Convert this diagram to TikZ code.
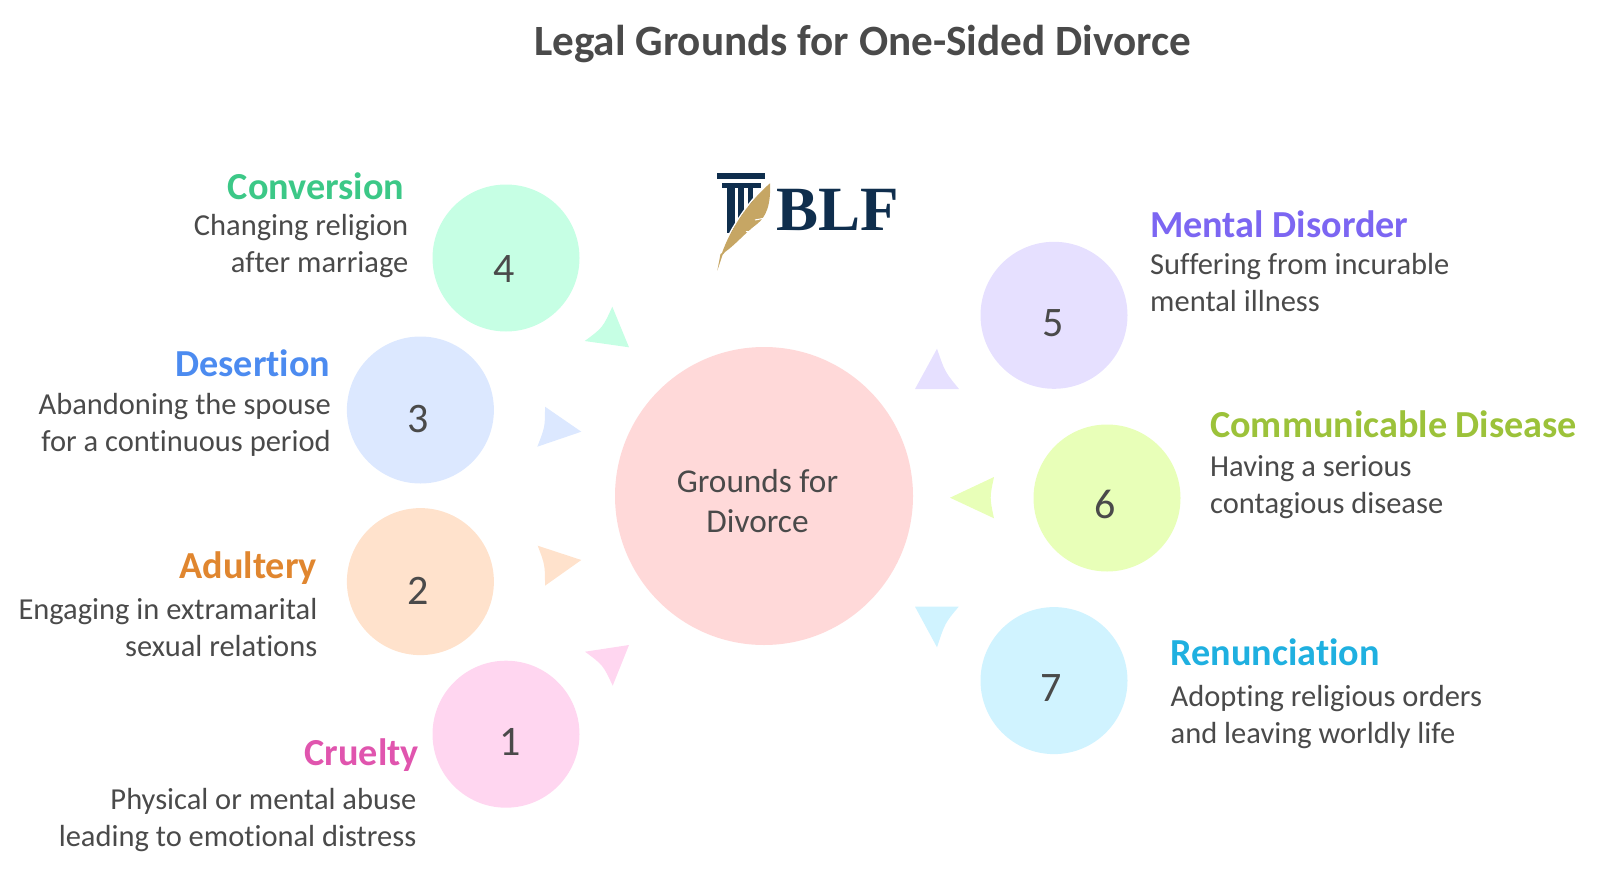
\documentclass[tikz,border=0pt]{standalone}
\usepackage{fontspec}
\setmainfont{Carlito}[Ligatures=NoCommon]
\newfontfamily\logofont{Liberation Serif}
\definecolor{inkgray}{HTML}{4A4A4A}
\definecolor{logonavy}{HTML}{0F2E4D}
\definecolor{logogold}{HTML}{C6A664}
\definecolor{softred}{HTML}{FFD9D9}
\definecolor{softgreen}{HTML}{C6FFE4}
\definecolor{softblue}{HTML}{DCE8FF}
\definecolor{softorange}{HTML}{FFE2CC}
\definecolor{softpink}{HTML}{FFD6F0}
\definecolor{softpurple}{HTML}{E6E0FF}
\definecolor{softlime}{HTML}{E8FFB8}
\definecolor{softcyan}{HTML}{D0F3FF}
\definecolor{headgreen}{RGB}{60,200,135}
\definecolor{headblue}{RGB}{76,139,240}
\definecolor{headorange}{RGB}{224,134,47}
\definecolor{headpink}{RGB}{224,85,174}
\definecolor{headpurple}{RGB}{124,102,242}
\definecolor{headlime}{RGB}{156,194,58}
\definecolor{headcyan}{RGB}{31,176,224}
\tikzset{
	bubble/.style={circle,inner sep=0pt,minimum size=147pt},
	digit/.style={inner sep=0pt,text=inkgray,font=\fontsize{42}{42}\selectfont},
	heading/.style={inner sep=0pt,font=\fontsize{38.2}{38.2}\selectfont\bfseries},
	note/.style={inner sep=0pt,text=inkgray,font=\fontsize{30.5}{36.7}\selectfont}
}
\begin{document}
\begin{tikzpicture}[x=1pt,y=-1pt,line join=round]
	\useasboundingbox (0,0) rectangle (1600,872);
	\draw(862.5,44)node[inner sep=0pt,text=inkgray,font=\fontsize{43.2}{43.2}\selectfont\bfseries](title){Legal Grounds for One-Sided Divorce};
	% logo
	\fill[logonavy](717.3,173.3) rectangle (765.3,179.3);
	\fill[logonavy](722.3,182.7) rectangle (760.7,187.7);
	\fill[logonavy](727.3,187.7) rectangle (735,233);
	\fill[logonavy](738,187.7) rectangle (744,220);
	\fill[logonavy](748,187.7) rectangle (753,209);
	\draw[white,line width=1.6pt](721,253) .. controls (728,233) and (745,205) .. (769,182);
	\fill[logogold](717.3,270.7)--(720.5,254)--(722,253) .. controls (729,233) and (745,205) .. (770,183.3) .. controls (771,205) and (766,217) .. (757,224) .. controls (745,233) and (735,245) .. (725,252)--(722.5,255)--cycle;
	\draw[white,line width=1pt](755,220)--(766.7,217.7) (746,231.7)--(758.3,231) (735,245)--(746.7,244.3);
	\draw(838,209.5)node[inner sep=0pt,text=logonavy,font=\logofont\fontsize{63}{63}\selectfont\bfseries](logo){BLF};
	% centre
	\draw(764,496)node[circle,inner sep=0pt,minimum size=298pt,fill=softred](grounds){};
	\draw(757.5,504)node[note,align=center,font=\fontsize{33.3}{40}\selectfont](groundstext){\strut Grounds for\\\strut Divorce};
	% circles
	\draw(506,258)node[bubble,fill=softgreen](c4){};
	\draw(420.4,410)node[bubble,fill=softblue](c3){};
	\draw(420.4,581.6)node[bubble,fill=softorange](c2){};
	\draw(506,734.2)node[bubble,fill=softpink](c1){};
	\draw(1054,315.3)node[bubble,fill=softpurple](c5){};
	\draw(1107,498)node[bubble,fill=softlime](c6){};
	\draw(1054,680.6)node[bubble,fill=softcyan](c7){};
	\draw(510,741.5)node[digit](n1){1};
	\draw(418,591)node[digit](n2){2};
	\draw(418,419.4)node[digit](n3){3};
	\draw(504,269)node[digit](n4){4};
	\draw(1053,323)node[digit](n5){5};
	\draw(1105,504.5)node[digit](n6){6};
	\draw(1051,688)node[digit](n7){7};
	% triangles
	\fill[softgreen](612.3,306.7)--(629,347.3)--(584.7,341) .. controls (602.7,327.7) .. cycle;
	\fill[softblue](545,406.7)--(581.3,431.7)--(537.3,446.7) .. controls (545,427) .. cycle;
	\fill[softorange](537.7,545.7)--(581.3,560)--(545,585.7) .. controls (545,565) .. cycle;
	\fill[softpink](629,645)--(585,651.7) .. controls (603,665) .. (612.7,685.7)--cycle;
	\fill[softpurple](937,348.7) .. controls (945,372) .. (959,389)--(915,389)--cycle;
	\fill[softlime](950,497.7)--(994,477) .. controls (989.6,497.7) .. (994,518.3)--cycle;
	\fill[softcyan](915,606.7)--(958.7,606.7) .. controls (945,623) .. (937,647.3)--cycle;
	% left labels
	\draw(404.5,186)node[heading,anchor=east,text=headgreen](conversion){Conversion};
	\draw(408.5,247)node[note,anchor=east,align=right](conversionnote){\strut Changing religion\\\strut after marriage};
	\draw(330.5,363)node[heading,anchor=east,text=headblue](desertion){Desertion};
	\draw(331,425.5)node[note,anchor=east,align=right](desertionnote){\strut Abandoning the spouse\\\strut for a continuous period};
	\draw(317,568)node[heading,anchor=east,text=headorange](adultery){Adultery};
	\draw(317.5,630.5)node[note,anchor=east,align=right](adulterynote){\strut Engaging in extramarital\\\strut sexual relations};
	\draw(419,755)node[heading,anchor=east,text=headpink](cruelty){Cruelty};
	\draw(416.5,820.5)node[note,anchor=east,align=right](crueltynote){\strut Physical or mental abuse\\\strut leading to emotional distress};
	% right labels
	\draw(1150,224)node[heading,anchor=west,text=headpurple](mental){Mental Disorder};
	\draw(1150,285.5)node[note,anchor=west,align=left](mentalnote){\strut Suffering from incurable\\\strut mental illness};
	\draw(1210,424)node[heading,anchor=west,text=headlime](disease){Communicable Disease};
	\draw(1210,487.5)node[note,anchor=west,align=left](diseasenote){\strut Having a serious\\\strut contagious disease};
	\draw(1170.5,652)node[heading,anchor=west,text=headcyan](renunciation){Renunciation};
	\draw(1170.5,717.5)node[note,anchor=west,align=left](renunciationnote){\strut Adopting religious orders\\\strut and leaving worldly life};
\end{tikzpicture}
\end{document}
